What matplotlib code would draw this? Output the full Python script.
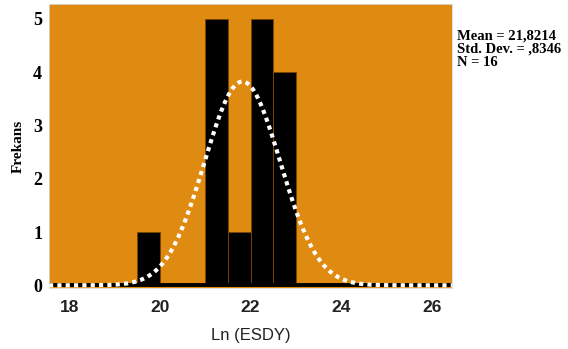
import numpy as np
import matplotlib
matplotlib.use("Agg")
import matplotlib.pyplot as plt

# histogram bins (left edges) and counts
bin_left = [19.5, 21.0, 21.5, 22.0, 22.5]
counts = [1, 5, 1, 5, 4]
bin_width = 0.5

mean = 21.8214
std_dev = 0.8346
n = 16

x_ticks = [18, 20, 22, 24, 26]
y_ticks = [0, 1, 2, 3, 4, 5]

orange = '#DF8A10'

fig = plt.figure(figsize=(5.68, 3.49), dpi=100)
ax = fig.add_axes([49 / 568, 1 - 288 / 349, 403 / 568, 284 / 349])
ax.set_facecolor(orange)

ax.bar(bin_left, counts, width=bin_width, align='edge', color='black',
       edgecolor='#7a4600', linewidth=0.7, zorder=2)

# baseline
ax.axhline(0, color='black', linewidth=2.8, zorder=3)

# normal curve from stated mean / std dev
xs = np.linspace(17.55, 26.45, 400)
ys = n * bin_width / (std_dev * np.sqrt(2 * np.pi)) * np.exp(-0.5 * ((xs - mean) / std_dev) ** 2)
ax.plot(xs, ys, color='white', linewidth=3.0, linestyle=(0, (1.0, 1.0)), zorder=4)

ax.set_xlim(17.55, 26.45)
ax.set_ylim(-0.05, 5.28)
ax.set_xticks(x_ticks)
ax.set_yticks(y_ticks)
ax.set_xticklabels([str(t) for t in x_ticks], fontsize=12.5, fontweight='bold',
                   family='Liberation Sans', color='#222222')
ax.set_yticklabels([str(t) for t in y_ticks], fontsize=13, fontweight='bold',
                   family='Liberation Serif')
ax.tick_params(axis='x', length=0, pad=9)
ax.tick_params(axis='y', length=0, pad=5)

for side in ['top', 'right', 'left', 'bottom']:
    ax.spines[side].set_color('#d9d9d9')
    ax.spines[side].set_linewidth(0.6)

ax.set_xlabel('Ln (ESDY)', fontsize=12, family='Liberation Sans', color='#222222', labelpad=9)
ax.set_ylabel('Frekans', fontsize=11, fontweight='bold', family='Liberation Serif', labelpad=6)

fig.text(457 / 568, 1 - 49 / 349, 'Mean = 21,8214\nStd. Dev. = ,8346\nN = 16',
         fontsize=10.5, fontweight='bold', family='Liberation Serif', va='center',
         ha='left', linespacing=1.0)

fig.savefig('out.png', dpi=100)
